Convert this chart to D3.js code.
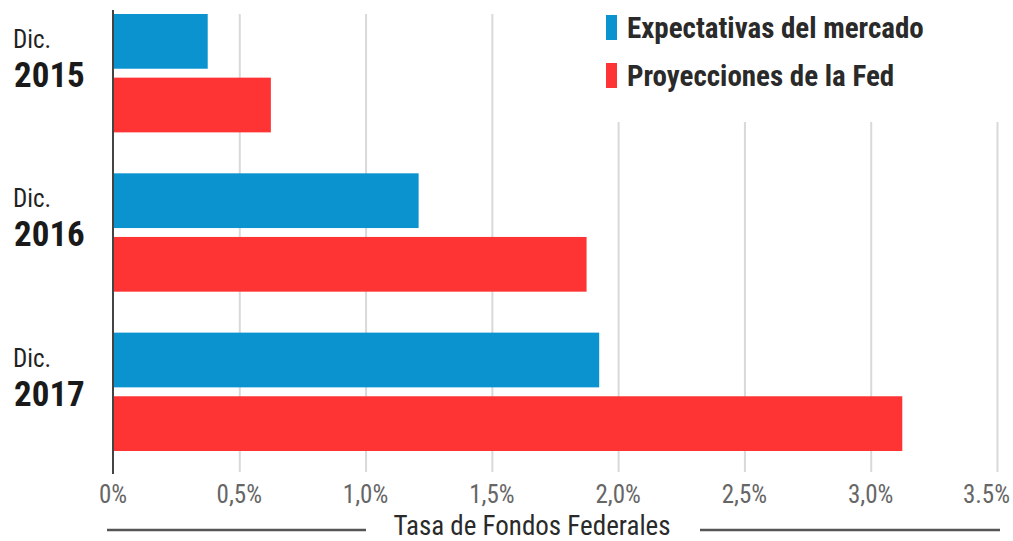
<!DOCTYPE html>
<html>
<head>
<meta charset="utf-8">
<script src="https://cdn.jsdelivr.net/npm/d3@7"></script>
<style>
  body { margin: 0; background: #fff; }
  svg text { font-family: 'Liberation Sans Narrow', 'Roboto Condensed', 'Roboto', sans-serif; }
</style>
</head>
<body>
<div id="chart"></div>
<script>
const years = ['2015', '2016', '2017']
const seriesNames = ['Expectativas del mercado', 'Proyecciones de la Fed']
const mercado = [0.375, 1.21, 1.925]
const fed = [0.625, 1.875, 3.125]
const tickValues = [0, 0.5, 1, 1.5, 2, 2.5, 3, 3.5]
const tickLabels = ['0%', '0,5%', '1,0%', '1,5%', '2,0%', '2,5%', '3,0%', '3.5%']
const colors = ['#0b93cf', '#fe3334']

const width = 1013
const height = 541

const svg = d3
  .select('#chart')
  .append('svg')
  .attr('width', width)
  .attr('height', height)

const x = d3.scaleLinear().domain([0, 3.5]).range([113, 997])

const y = d3
  .scaleBand()
  .domain(years)
  .range([14, 451])
  .paddingInner(0.257)
  .paddingOuter(0)

const ySub = d3
  .scaleBand()
  .domain(seriesNames)
  .range([0, y.bandwidth()])
  .paddingInner(0.14)

const data = years.map((yr, i) => ({
  year: yr,
  values: [
    { name: seriesNames[0], value: mercado[i] },
    { name: seriesNames[1], value: fed[i] }
  ]
}))

// grid lines
const xAxis = d3
  .axisBottom(x)
  .tickValues(tickValues.slice(1))
  .tickSize(-458)
  .tickFormat('')
svg
  .append('g')
  .attr('class', 'grid')
  .attr('transform', 'translate(0,472)')
  .call(xAxis)
svg.selectAll('.grid path').remove()
svg
  .selectAll('.grid line')
  .attr('stroke', '#d9d9d9')
  .attr('stroke-width', 2)

// bars
const groups = svg
  .selectAll('.year')
  .data(data)
  .enter()
  .append('g')
  .attr('class', 'year')
  .attr('transform', d => 'translate(0,' + y(d.year) + ')')

groups
  .selectAll('rect')
  .data(d => d.values)
  .enter()
  .append('rect')
  .attr('x', x(0))
  .attr('y', d => ySub(d.name))
  .attr('height', ySub.bandwidth())
  .attr('width', d => x(d.value) - x(0))
  .attr('fill', (d, i) => colors[i])

// category labels
groups
  .append('text')
  .text('Dic.')
  .attr('x', 13)
  .attr('y', 34)
  .attr('font-size', 25)
  .attr('fill', '#222')
groups
  .append('text')
  .text(d => d.year)
  .attr('x', 14)
  .attr('y', 73)
  .attr('font-size', 35)
  .attr('font-weight', 'bold')
  .attr('fill', '#1a1a1a')

// zero line
svg
  .append('line')
  .attr('x1', x(0))
  .attr('x2', x(0))
  .attr('y1', 10)
  .attr('y2', 474)
  .attr('stroke', '#444')
  .attr('stroke-width', 2)

// tick labels
svg
  .selectAll('.tick-label')
  .data(tickValues)
  .enter()
  .append('text')
  .attr('class', 'tick-label')
  .text((d, i) => tickLabels[i])
  .attr('x', (d, i) => (i === tickValues.length - 1 ? 1010 : x(d)))
  .attr('y', 503)
  .attr('text-anchor', (d, i) => (i === tickValues.length - 1 ? 'end' : 'middle'))
  .attr('font-size', 25)
  .attr('fill', '#666')

// axis title
svg
  .append('text')
  .text('Tasa de Fondos Federales')
  .attr('x', 532)
  .attr('y', 535)
  .attr('text-anchor', 'middle')
  .attr('font-size', 27)
  .attr('fill', '#2a2a2a')
svg
  .append('line')
  .attr('x1', 107)
  .attr('x2', 366)
  .attr('y1', 530)
  .attr('y2', 530)
  .attr('stroke', '#555')
  .attr('stroke-width', 2.5)
svg
  .append('line')
  .attr('x1', 700)
  .attr('x2', 1000)
  .attr('y1', 530)
  .attr('y2', 530)
  .attr('stroke', '#555')
  .attr('stroke-width', 2.5)

// legend
const legend = svg.append('g').attr('class', 'legend')
legend
  .append('rect')
  .attr('x', 592)
  .attr('y', 0)
  .attr('width', 421)
  .attr('height', 122)
  .attr('fill', '#fff')

const items = legend
  .selectAll('.item')
  .data(seriesNames)
  .enter()
  .append('g')
  .attr('class', 'item')
  .attr('transform', (d, i) => 'translate(606,' + (15 + i * 48) + ')')
items
  .append('rect')
  .attr('width', 11)
  .attr('height', 25)
  .attr('fill', (d, i) => colors[i])
items
  .append('text')
  .text(d => d)
  .attr('x', 21)
  .attr('y', 23)
  .attr('font-size', 29)
  .attr('font-weight', 'bold')
  .attr('fill', '#2a2a2a')
</script>
</body>
</html>
